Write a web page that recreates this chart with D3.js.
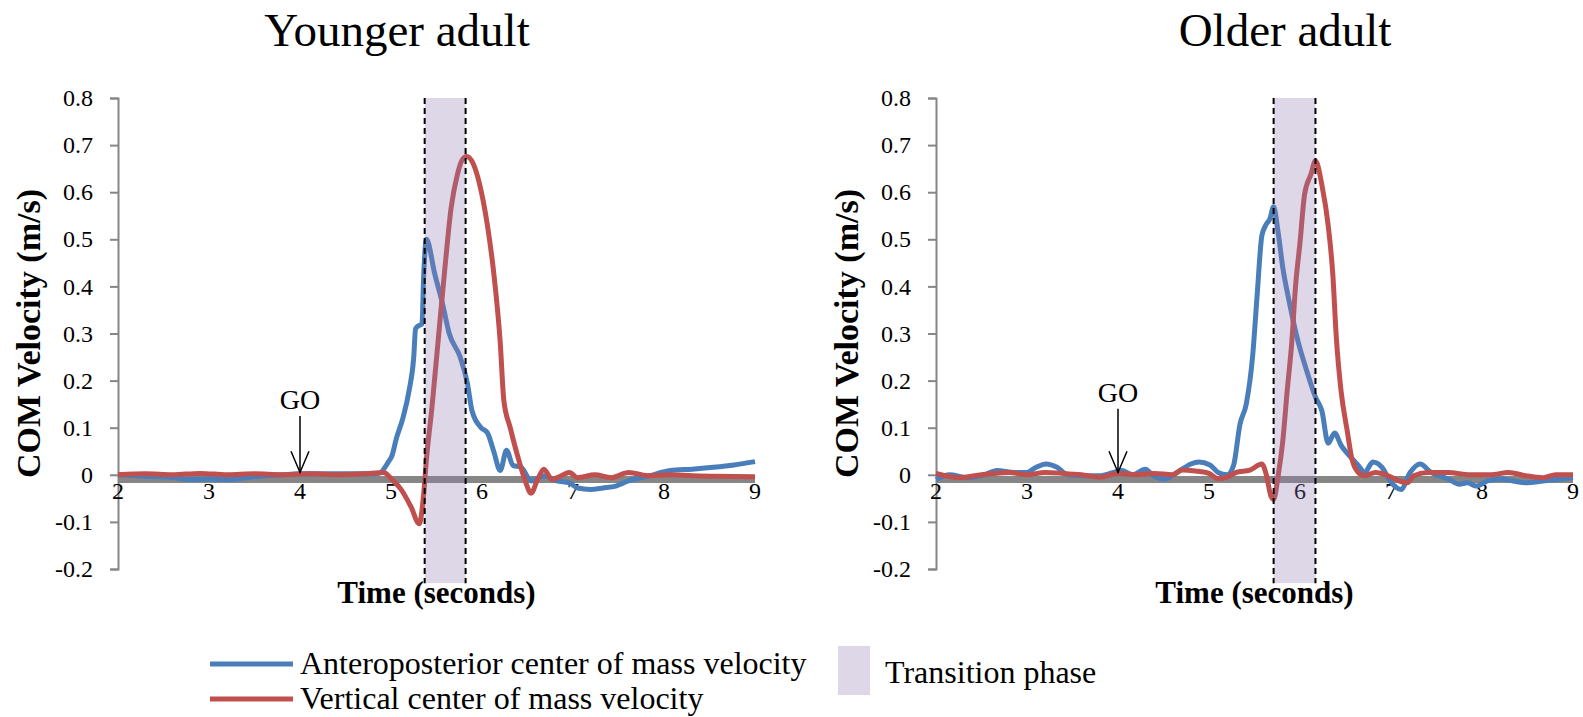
<!DOCTYPE html>
<html>
<head>
<meta charset="utf-8">
<script src="https://cdn.jsdelivr.net/npm/d3@7"></script>
<style>
  body { margin: 0; background: #fff; }
  text { font-family: "Liberation Serif", "Times New Roman", serif; fill: #000; }
</style>
</head>
<body>
<div id="chart"></div>
<script>
const W = 1583, H = 717;

// x ticks and y ticks shared by both panels
const timeTicks = [2, 3, 4, 5, 6, 7, 8, 9];
const velTicks = [0.8, 0.7, 0.6, 0.5, 0.4, 0.3, 0.2, 0.1, 0, -0.1, -0.2];

// Younger adult - anteroposterior COM velocity
const youngApT = [2, 2.3, 2.6, 2.8, 3.0, 3.2, 3.5, 3.8, 4.0, 4.3, 4.6, 4.8, 4.87, 4.97, 5.01, 5.06, 5.13, 5.2, 5.25, 5.27, 5.3, 5.34, 5.36, 5.39,
  5.48, 5.57, 5.64, 5.76, 5.84, 5.89, 5.99, 6.06, 6.13, 6.2, 6.27, 6.34, 6.43, 6.54, 6.68, 6.82, 6.96, 7.05, 7.19, 7.33, 7.47, 7.61,
  7.84, 8.07, 8.31, 8.54, 8.77, 9.0];
const youngApV = [0, -0.003, -0.006, -0.01, -0.009, -0.01, -0.004, 0, 0.002, 0.002, 0.002, 0.002, 0.003, 0.027, 0.04, 0.078, 0.12, 0.18, 0.25, 0.31, 0.316, 0.32, 0.427, 0.50,
  0.427, 0.36, 0.30, 0.25, 0.194, 0.136, 0.10, 0.089, 0.049, 0.009, 0.052, 0.02, 0.016, -0.013, -0.002, -0.013, -0.017, -0.028, -0.031, -0.028, -0.024, -0.013,
  -0.002, 0.009, 0.012, 0.016, 0.021, 0.028];

// Younger adult - vertical COM velocity
const youngVtT = [2, 2.3, 2.6, 2.9, 3.2, 3.5, 3.8, 4.1, 4.4, 4.7, 4.92, 5.01, 5.11, 5.22, 5.31, 5.36, 5.39, 5.45, 5.52, 5.59, 5.66, 5.73, 5.78, 5.83,
  5.9, 5.97, 6.06, 6.13, 6.2, 6.24, 6.31, 6.4, 6.47, 6.54, 6.61, 6.68, 6.77, 6.87, 6.96, 7.05, 7.24, 7.42, 7.61, 7.84, 8.07, 8.31, 8.54, 9.0];
const youngVtV = [0, 0.002, 0, 0.003, 0, 0.002, 0, 0.002, 0, 0.002, 0.005, -0.01, -0.031, -0.068, -0.104, -0.039, 0.034, 0.143, 0.289, 0.434, 0.566, 0.638, 0.668, 0.676,
  0.662, 0.62, 0.529, 0.427, 0.282, 0.158, 0.10, 0.034, -0.01, -0.039, -0.01, 0.012, -0.01, -0.002, 0.005, -0.006, 0.0, -0.006, 0.005, -0.002, 0.0, -0.002, -0.003, -0.004];

// Older adult - anteroposterior COM velocity
const olderApT = [2, 2.15, 2.34, 2.53, 2.67, 2.86, 3.0, 3.1, 3.21, 3.33, 3.45, 3.62, 3.8, 3.95, 4.04, 4.16, 4.3, 4.39, 4.51, 4.65, 4.8, 4.89, 5.01,
  5.1, 5.2, 5.27, 5.34, 5.41, 5.48, 5.53, 5.58, 5.62, 5.67, 5.71, 5.76, 5.81, 5.88, 5.98, 6.07, 6.17, 6.24, 6.31, 6.38, 6.45, 6.54, 6.64,
  6.71, 6.8, 6.9, 6.99, 7.11, 7.21, 7.32, 7.44, 7.63, 7.75, 7.84, 7.94, 8.06, 8.2, 8.34, 8.48, 8.67, 8.86, 9.0];
const olderApV = [-0.01, 0.0, -0.006, 0.0, 0.009, 0.005, 0.005, 0.016, 0.023, 0.016, 0.0, -0.002, -0.002, 0.005, 0.009, 0.0, 0.012, -0.002, -0.009, 0.005, 0.023, 0.027, 0.021,
  0.005, 0.0, 0.02, 0.107, 0.151, 0.253, 0.384, 0.507, 0.529, 0.544, 0.569, 0.514, 0.441, 0.369, 0.282, 0.223, 0.165, 0.136, 0.067, 0.089, 0.063, 0.041, 0.02,
  0.005, 0.027, 0.016, -0.013, -0.031, 0.005, 0.023, 0.005, -0.009, -0.02, -0.017, -0.024, -0.013, -0.009, -0.013, -0.017, -0.013, -0.009, -0.006];

// Older adult - vertical COM velocity
const olderVtT = [2, 2.25, 2.5, 2.8, 3.0, 3.2, 3.4, 3.6, 3.8, 4.0, 4.2, 4.4, 4.6, 4.7, 4.85, 5.0, 5.1, 5.2, 5.3, 5.45, 5.58, 5.63, 5.68, 5.71,
  5.76, 5.81, 5.86, 5.91, 5.95, 6.0, 6.05, 6.12, 6.17, 6.24, 6.31, 6.36, 6.4, 6.45, 6.52, 6.57, 6.64, 6.71, 6.83, 6.97, 7.09, 7.18, 7.25,
  7.4, 7.63, 7.87, 8.1, 8.29, 8.48, 8.67, 8.81, 9.0];
const olderVtV = [0.003, -0.006, 0.0, 0.005, 0.0, 0.005, 0.003, 0.0, -0.005, 0.003, 0.0, 0.003, 0.0, 0.01, 0.008, 0.003, -0.008, -0.005, 0.005, 0.01, 0.023, 0.0, -0.045, -0.052,
  -0.002, 0.07, 0.18, 0.282, 0.398, 0.493, 0.595, 0.638, 0.667, 0.616, 0.529, 0.427, 0.289, 0.18, 0.092, 0.034, 0.005, -0.002, 0.005, -0.002, -0.013, -0.017, -0.002,
  0.005, 0.005, 0.0, 0.0, 0.005, -0.002, -0.006, 0.0, 0.0];

// transition phase bounds [start, end] (seconds) and GO cue time
const youngPhase = [5.37, 5.82];
const olderPhase = [5.71, 6.17];
const goTime = 4;

const titles = ["Younger adult", "Older adult"];
const legendLabels = ["Anteroposterior center of mass velocity", "Vertical center of mass velocity"];
const blue = "#4a7ebb", red = "#c0504d";

const svg = d3.select("#chart").append("svg")
  .attr("width", W).attr("height", H);

function drawPanel(left, right, title, titleX, yTitleX, phase, goLevel, ap, vt) {
  const x = d3.scaleLinear().domain([2, 9]).range([left, right]);
  const y = d3.scaleLinear().domain([-0.2, 0.8]).range([569, 98]);
  const g = svg.append("g");

  g.append("text").attr("x", titleX).attr("y", 46)
    .attr("text-anchor", "middle").style("font-size", "47px").text(title);

  // y axis
  const yAxis = d3.axisLeft(y).tickValues(velTicks).tickSize(8).tickPadding(17)
    .tickFormat(d => d === 0 ? "0" : d3.format(".1f")(d).replace("−", "-"));
  const ya = g.append("g").attr("transform", `translate(${left},0)`).call(yAxis)
    .attr("font-family", null).attr("font-size", null);
  ya.select(".domain").attr("stroke", "#868686").attr("stroke-width", 2);
  ya.selectAll(".tick line").attr("stroke", "#868686").attr("stroke-width", 2);
  ya.selectAll(".tick text").style("font-size", "24px").attr("fill", "#000");

  // thick grey zero line
  g.append("line").attr("x1", left).attr("x2", right)
    .attr("y1", y(-0.01)).attr("y2", y(-0.01))
    .attr("stroke", "#868686").attr("stroke-width", 7);

  // x tick labels
  g.selectAll(".xl").data(timeTicks).enter().append("text")
    .attr("x", d => x(d)).attr("y", y(0) + 24)
    .attr("text-anchor", "middle").style("font-size", "24px").text(d => d);

  const line = d3.line().x(d => x(d[0])).y(d => y(d[1])).curve(d3.curveMonotoneX);
  g.append("path").datum(d3.zip(ap[0], ap[1])).attr("d", line)
    .attr("fill", "none").attr("stroke", blue).attr("stroke-width", 5).attr("stroke-linejoin", "round");
  g.append("path").datum(d3.zip(vt[0], vt[1])).attr("d", line)
    .attr("fill", "none").attr("stroke", red).attr("stroke-width", 5).attr("stroke-linejoin", "round");

  // transition phase shading (drawn over the curves, translucent)
  g.append("rect").attr("x", x(phase[0])).attr("width", x(phase[1]) - x(phase[0]))
    .attr("y", y(0.8)).attr("height", y(-0.23) - y(0.8))
    .attr("fill", "#8e7ab2").attr("fill-opacity", 0.3);
  phase.forEach(p => {
    g.append("line").attr("x1", x(p)).attr("x2", x(p))
      .attr("y1", y(0.8)).attr("y2", y(-0.23))
      .attr("stroke", "#000").attr("stroke-width", 2).attr("stroke-dasharray", "6,4");
  });

  // GO arrow
  const gx = x(goTime);
  g.append("text").attr("x", gx).attr("y", y(goLevel)).attr("text-anchor", "middle")
    .style("font-size", "28px").text("GO");
  g.append("line").attr("x1", gx).attr("x2", gx).attr("y1", y(goLevel - 0.015)).attr("y2", y(0.005))
    .attr("stroke", "#000").attr("stroke-width", 1.5);
  g.append("path")
    .attr("d", `M${gx - 9},${y(0.05)} L${gx},${y(0.005)} L${gx + 9},${y(0.05)}`)
    .attr("fill", "none").attr("stroke", "#000").attr("stroke-width", 1.5);

  // axis titles
  g.append("text").attr("x", (left + right) / 2).attr("y", 603)
    .attr("text-anchor", "middle").style("font-size", "31px").style("font-weight", "bold")
    .text("Time (seconds)");
  g.append("text").attr("transform", `translate(${yTitleX},${y(0.3)}) rotate(-90)`)
    .attr("text-anchor", "middle").attr("dy", "0.35em")
    .style("font-size", "34px").style("font-weight", "bold").text("COM Velocity (m/s)");
}

drawPanel(118, 755, titles[0], 397, 28, youngPhase, 0.14, [youngApT, youngApV], [youngVtT, youngVtV]);
drawPanel(936, 1573, titles[1], 1285, 846, olderPhase, 0.155, [olderApT, olderApV], [olderVtT, olderVtV]);

// legend
const leg = svg.append("g");
[blue, red].forEach((c, i) => {
  const ly = 664 + i * 35;
  leg.append("line").attr("x1", 210).attr("x2", 293).attr("y1", ly).attr("y2", ly)
    .attr("stroke", c).attr("stroke-width", 5);
  leg.append("text").attr("x", 300).attr("y", ly).attr("dy", "0.32em")
    .style("font-size", "32px").text(legendLabels[i]);
});
leg.append("rect").attr("x", 838).attr("y", 646).attr("width", 32).attr("height", 49)
  .attr("fill", "#8e7ab2").attr("fill-opacity", 0.3);
leg.append("text").attr("x", 885).attr("y", 672).attr("dy", "0.35em")
  .style("font-size", "32px").text("Transition phase");
</script>
</body>
</html>
